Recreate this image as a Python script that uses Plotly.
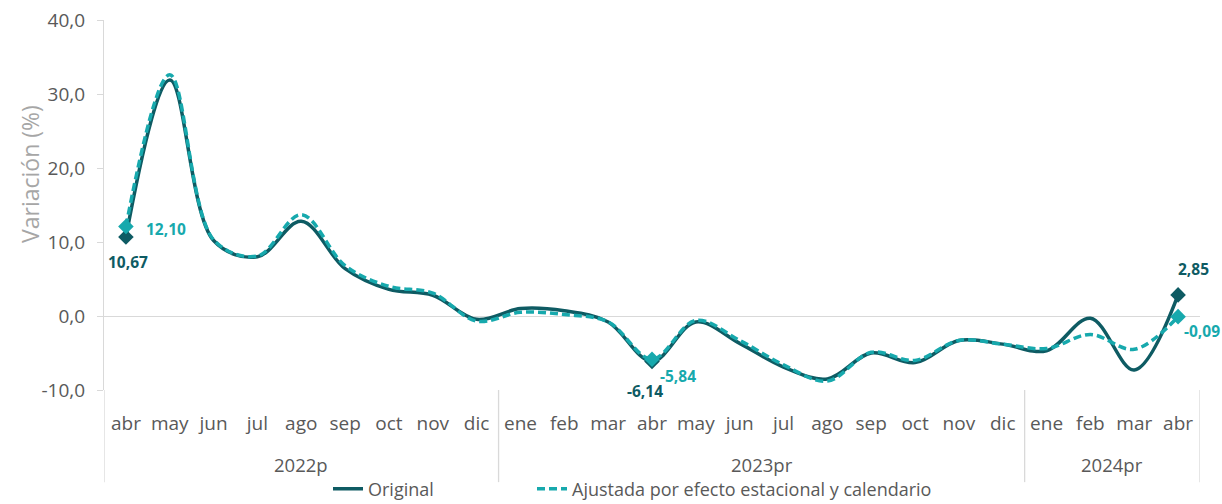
import plotly.graph_objects as go

# months from abr 2022 to abr 2024
months = ["abr", "may", "jun", "jul", "ago", "sep", "oct", "nov", "dic",
          "ene", "feb", "mar", "abr", "may", "jun", "jul", "ago", "sep", "oct", "nov", "dic",
          "ene", "feb", "mar", "abr"]
years = ["2022p"] * 9 + ["2023pr"] * 12 + ["2024pr"] * 4

original = [10.67, 31.9, 10.2, 8.0, 12.8, 6.4, 3.6, 2.8, -0.45,
            1.0, 0.7, -0.8, -6.14, -0.8, -3.7, -6.9, -8.5, -5.0, -6.3, -3.3, -3.8,
            -4.7, -0.3, -7.3, 2.85]
ajustada = [12.10, 32.6, 10.3, 8.1, 13.7, 6.8, 4.0, 3.1, -0.7,
            0.5, 0.2, -0.8, -5.84, -0.6, -3.3, -6.6, -8.8, -4.9, -6.0, -3.3, -3.8,
            -4.4, -2.5, -4.5, -0.09]
highlight = [0, 12, 24]
y_ticks = [-10, 0, 10, 20, 30, 40]

DARK = "#0e5b63"
CYAN = "#17a9ad"
GRID = "#d9d9d9"
TXT = "#595959"
FONT = "Open Sans"


def fmt(v, nd):
    return f"{v:.{nd}f}".replace(".", ",")


x = list(range(len(months)))

fig = go.Figure()
fig.add_trace(go.Scatter(
    x=x, y=original, name="Original", mode="lines", legend="legend",
    line=dict(color=DARK, width=3.5, shape="spline", smoothing=1.0),
))
fig.add_trace(go.Scatter(
    x=x, y=ajustada, name="Ajustada por efecto estacional y calendario", mode="lines",
    legend="legend2",
    line=dict(color=CYAN, width=3.5, shape="spline", smoothing=1.0, dash="8px,4px"),
))
for vals, col in [(original, DARK), (ajustada, CYAN)]:
    fig.add_trace(go.Scatter(
        x=[x[i] for i in highlight], y=[vals[i] for i in highlight],
        mode="markers", showlegend=False, hoverinfo="skip",
        marker=dict(symbol="diamond", size=12, color=col),
    ))

# data labels: (series, index, colour, xshift, yshift)
label_spec = [
    (original, 0, DARK, 2, -25),
    (original, 12, DARK, -7, -30),
    (original, 24, DARK, 15, 26),
    (ajustada, 0, CYAN, 40, -3),
    (ajustada, 12, CYAN, 26, -17),
    (ajustada, 24, CYAN, 24, -14),
]
for vals, i, col, dx, dy in label_spec:
    fig.add_annotation(
        x=x[i], y=vals[i], text=fmt(vals[i], 2),
        showarrow=False, xshift=dx, yshift=dy,
        font=dict(family=FONT, size=15.5, color=col, weight="bold"),
    )

# year group labels and dividers
groups = []
for i, yr in enumerate(years):
    if not groups or groups[-1][0] != yr:
        groups.append([yr, i, i])
    else:
        groups[-1][2] = i
for yr, a, b in groups:
    fig.add_annotation(
        x=(a + b) / 2, y=-0.2027, xref="x", yref="paper", text=yr,
        showarrow=False, xanchor="center", yanchor="middle",
        font=dict(family=FONT, size=18.5, color=TXT),
    )
bounds = [g[1] - 0.5 for g in groups] + [groups[-1][2] + 0.5]
for bx in bounds:
    fig.add_shape(type="line", x0=bx, x1=bx, y0=0, y1=-0.249,
                  xref="x", yref="paper", line=dict(color=GRID, width=1.3))

fig.add_annotation(
    x=-0.0675, y=0.584, xref="paper", yref="paper", text="Variación (%)",
    textangle=-90, showarrow=False, xanchor="center", yanchor="middle",
    font=dict(family=FONT, size=23, color="#a6a6a6"),
)

fig.update_xaxes(
    range=[-0.5, len(months) - 0.5], tickvals=x, ticktext=months,
    showgrid=False, zeroline=False, showline=False, ticks="",
    ticklabelstandoff=20, automargin=False,
    tickfont=dict(family=FONT, size=19, color=TXT),
)
fig.update_yaxes(
    range=[-10, 40], tickvals=y_ticks, ticktext=[fmt(v, 1) for v in y_ticks],
    showgrid=False, zeroline=True, zerolinecolor=GRID, zerolinewidth=1.3,
    showline=True, linecolor=GRID, linewidth=1.3,
    ticks="outside", ticklen=6, tickcolor=GRID, ticklabelstandoff=8,
    automargin=False,
    tickfont=dict(family=FONT, size=19, color=TXT),
)

legend_style = dict(
    orientation="h", xanchor="left", y=-0.2676, yanchor="middle",
    font=dict(family=FONT, size=18, color=TXT), bgcolor="rgba(0,0,0,0)",
    borderwidth=0,
)
fig.update_layout(
    width=1222, height=504,
    margin=dict(l=104, r=22, t=20, b=114, autoexpand=False),
    plot_bgcolor="white", paper_bgcolor="white",
    showlegend=True,
    legend=dict(x=(328 - 104) / 1096, **legend_style),
    legend2=dict(x=(532 - 104) / 1096, **legend_style),
)

fig.write_html(
    "out.html",
    config={"displayModeBar": False},
    post_script="document.body.style.margin='0';document.body.style.overflow='hidden';",
)
